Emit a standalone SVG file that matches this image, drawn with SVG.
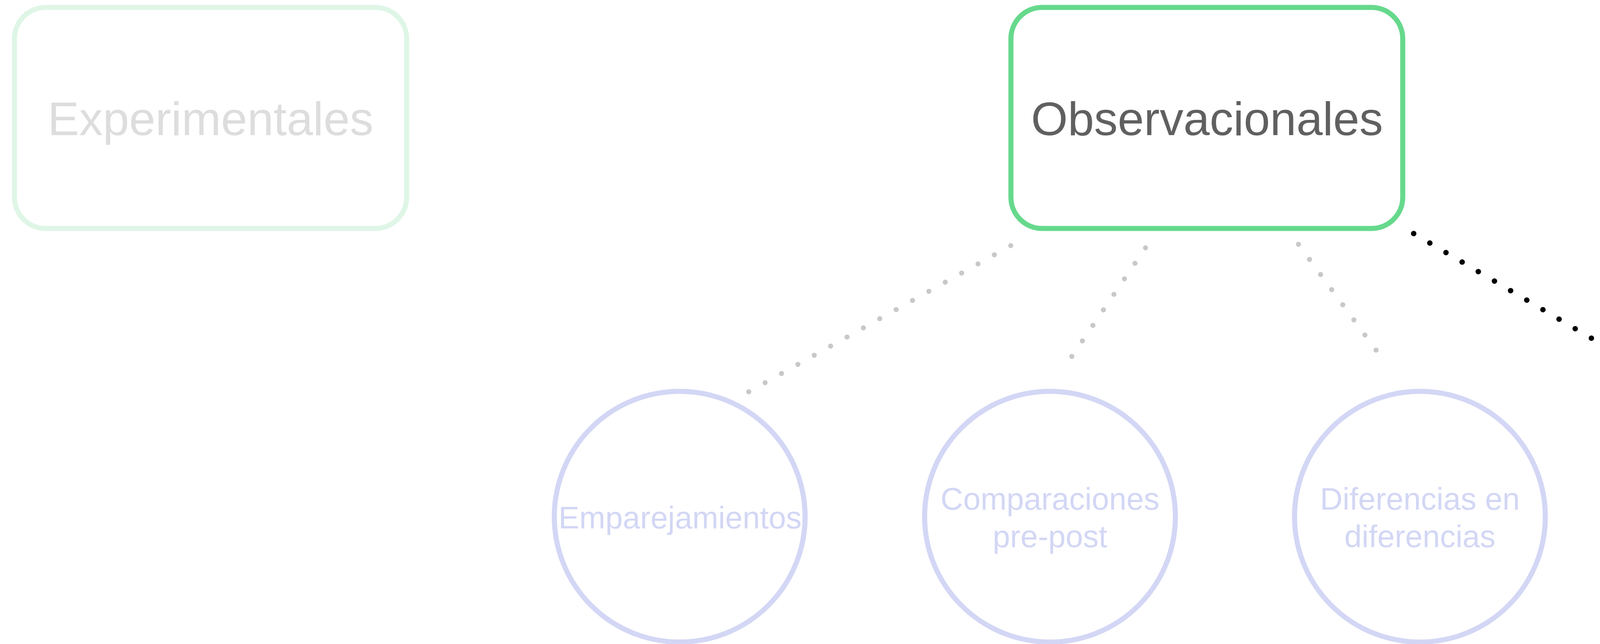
<svg xmlns="http://www.w3.org/2000/svg" width="4763" height="1649" viewBox="0 0 4763 1649">
<style>
text{font-family:"Liberation Sans",Arial,Helvetica,sans-serif;text-anchor:middle}
.box{fill:#ffffff;stroke-width:13}
.big{font-size:121px}
.circ{fill:#ffffff;stroke-width:13}
.ct{font-size:80px}
.dim{stroke:#d3d7f5}
.dimt{fill:#d3d7f5}
.dot{fill:none;stroke-linecap:round;stroke-dasharray:0 48}
</style>
<rect width="4763" height="1649" fill="#ffffff"/>
<g id="connectors">
<path class="dot" d="M2587.5,629 L1914.5,1004.5" stroke="#c8c8c8" stroke-width="13"/>
<path class="dot" d="M2932.5,634.5 L2743.7,913" stroke="#c8c8c8" stroke-width="13"/>
<path class="dot" d="M3324,625.5 L3522.8,896.6" stroke="#c8c8c8" stroke-width="13"/>
<path class="dot" d="M3619,598 L4281.5,988.3" stroke="#000000" stroke-width="14"/>
</g>
<g id="experimentales">
<rect class="box" x="37" y="19" width="1004" height="566" rx="80" ry="80" stroke="#dff6e7"/>
<text class="big" x="539" y="346" fill="#dddddd">Experimentales</text>
</g>
<g id="observacionales">
<rect class="box" x="2588" y="19" width="1003" height="566" rx="80" ry="80" stroke="#66d98c"/>
<text class="big" x="3090" y="346" fill="#606060">Observacionales</text>
</g>
<g id="emparejamientos">
<circle class="circ dim" cx="1740" cy="1323" r="321"/>
<text class="ct dimt" x="1741" y="1353">Emparejamientos</text>
</g>
<g id="comparaciones">
<circle class="circ dim" cx="2688" cy="1323" r="321"/>
<text class="ct dimt" x="2688" y="1305">Comparaciones</text>
<text class="ct dimt" x="2688" y="1401">pre-post</text>
</g>
<g id="diferencias">
<circle class="circ dim" cx="3635" cy="1323" r="321"/>
<text class="ct dimt" x="3635" y="1305">Diferencias en</text>
<text class="ct dimt" x="3635" y="1401">diferencias</text>
</g>
<g id="ponderaciones">
<circle class="circ" cx="4449" cy="1323" r="322" stroke="#1d36d9"/>
<text class="ct" x="4449" y="1239" fill="#1d36d9">Ponderaciones</text>
<text class="ct" x="4449" y="1353" fill="#1d36d9">por</text>
<text class="ct" x="4449" y="1468" fill="#1d36d9">probabilidades</text>
</g>
</svg>
